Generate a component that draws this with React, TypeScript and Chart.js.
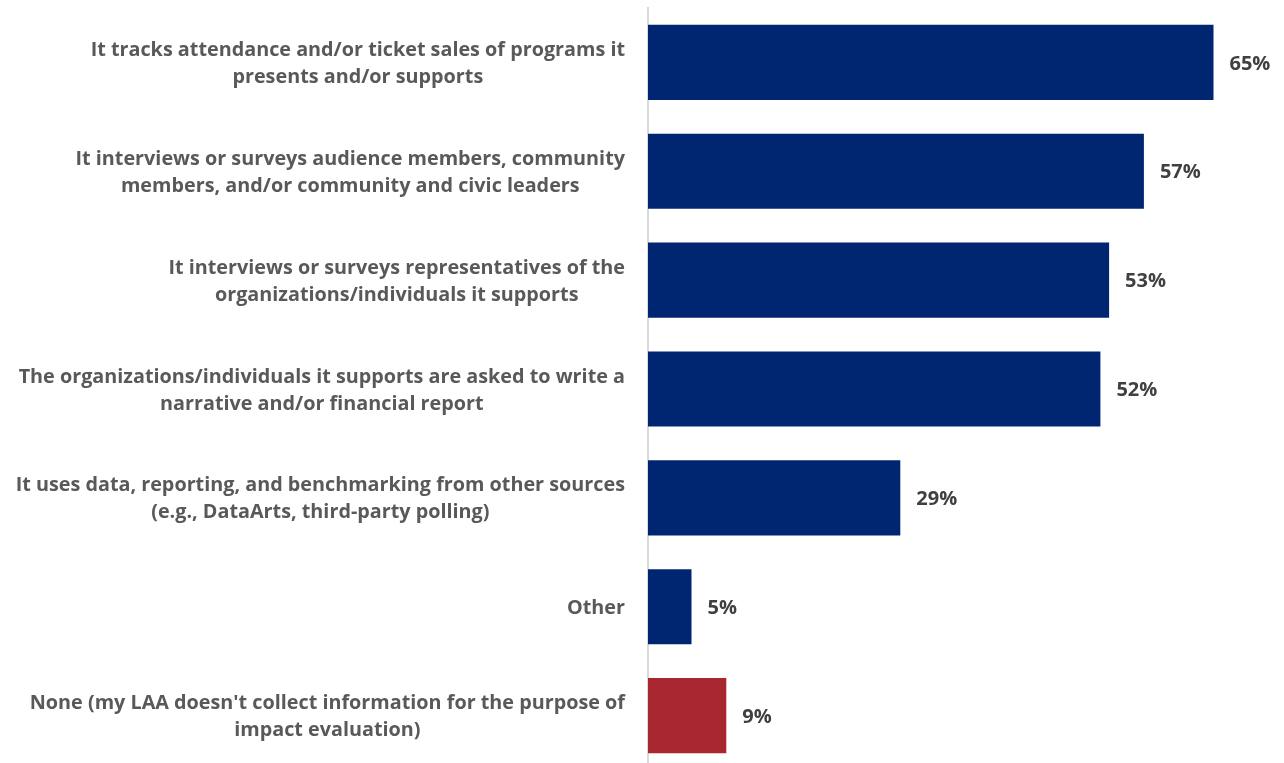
import React, { useEffect, useRef } from "react";
import { Chart, registerables } from "chart.js";

Chart.register(...registerables);

const categories: string[][] = [
  ["It tracks attendance and/or ticket sales of programs it", "presents and/or supports"],
  ["It interviews or surveys audience members, community", "members, and/or community and civic leaders"],
  ["It interviews or surveys representatives of the", "organizations/individuals it supports"],
  ["The organizations/individuals it supports are asked to write a", "narrative and/or financial report"],
  ["It uses data, reporting, and benchmarking from other sources", "(e.g., DataArts, third-party polling)"],
  ["Other"],
  ["None (my LAA doesn't collect information for the purpose of", "impact evaluation)"],
];
const values: number[] = [65, 57, 53, 52, 29, 5, 9];
const barColors: string[] = ["#002672", "#002672", "#002672", "#002672", "#002672", "#002672", "#A8262F"];

const FONT = "'Open Sans', sans-serif";

const labelPlugin = {
  id: "customLabels",
  afterDatasetsDraw(chart: any) {
    const ctx = chart.ctx;
    const yScale = chart.scales.y;
    const meta = chart.getDatasetMeta(0);
    ctx.save();
    ctx.font = `bold 19.8px ${FONT}`;
    ctx.fillStyle = "#595959";
    ctx.textAlign = "center";
    ctx.textBaseline = "middle";
    const right = chart.chartArea.left - 23;
    const lh = 27;
    categories.forEach((lines, i) => {
      const cy = yScale.getPixelForValue(i) + 1.5;
      const maxW = Math.max(...lines.map((l) => ctx.measureText(l).width));
      const cx = right - maxW / 2;
      const startY = cy - ((lines.length - 1) * lh) / 2;
      lines.forEach((l, j) => ctx.fillText(l, cx, startY + j * lh));
    });
    ctx.font = `bold 20px ${FONT}`;
    ctx.fillStyle = "#404040";
    ctx.textAlign = "left";
    meta.data.forEach((bar: any, i: number) => {
      ctx.fillText(values[i] + "%", bar.x + 16, bar.y + 1.5);
    });
    ctx.restore();
  },
};

export default function App() {
  const ref = useRef<HTMLCanvasElement>(null);
  useEffect(() => {
    if (!ref.current) return;
    const chart = new Chart(ref.current, {
      type: "bar",
      data: {
        labels: categories.map((c) => c.join(" ")),
        datasets: [
          {
            data: values,
            backgroundColor: barColors,
            borderWidth: 0,
            categoryPercentage: 1,
            barPercentage: 0.69,
          },
        ],
      },
      options: {
        indexAxis: "y",
        animation: false,
        responsive: false,
        layout: { padding: { top: 8, bottom: 2, left: 0, right: 27 } },
        plugins: { legend: { display: false }, tooltip: { enabled: false } },
        scales: {
          x: { display: false, min: 0, max: 70 },
          y: {
            grid: { display: false, drawTicks: false },
            border: { display: true, color: "#D9D9D9", width: 2 },
            ticks: { display: false },
            afterFit: (s: any) => {
              s.width = 648;
            },
          },
        },
      },
      plugins: [labelPlugin],
    });
    return () => chart.destroy();
  }, []);
  return (
    <div style={{ position: "fixed", left: 0, top: 0, width: 1284, height: 763, overflow: "hidden", background: "#fff" }}>
      <canvas ref={ref} width={1284} height={772} />
    </div>
  );
}
